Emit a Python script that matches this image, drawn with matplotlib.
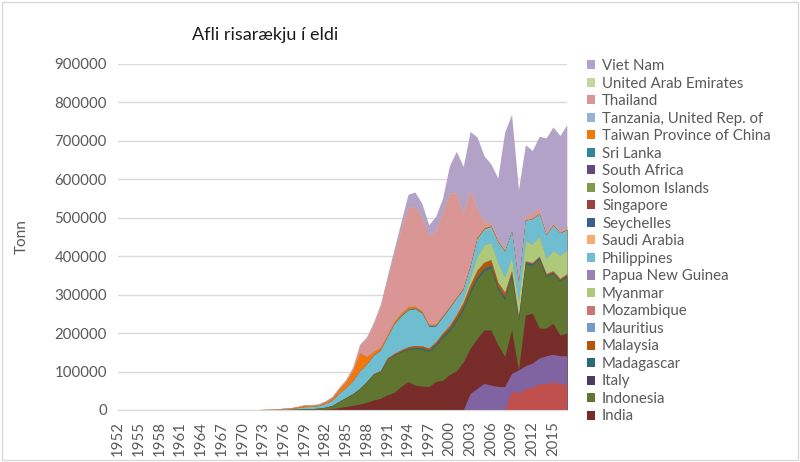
import matplotlib
matplotlib.use('Agg')
import matplotlib.pyplot as plt
import matplotlib.patches as mpatches
import numpy as np

plt.rcParams['font.family'] = ['Lato', 'DejaVu Sans']

# ── Data (tonnes), one value per year 1968-2017; earlier years are all zero ──
YEARS = list(range(1968, 2018))
TICK_YEARS = list(range(1952, 2018, 3))

# series below India in the stack (legend in the source is cut off above them)
bangladesh = [0, 0, 0, 0, 0, 0, 0, 0, 0, 0,
              0, 0, 0, 0, 0, 0, 0, 0, 0, 0,
              0, 0, 0, 0, 0, 0, 0, 0, 0, 0,
              0, 0, 0, 0, 0, 0, 0, 0, 0, 0,
              0, 50000, 43000, 56000, 59000, 68000, 69000, 74000, 68000, 68000]
china = [0, 0, 0, 0, 0, 0, 0, 0, 0, 0,
         0, 0, 0, 0, 0, 0, 0, 0, 0, 0,
         0, 0, 0, 0, 0, 0, 0, 0, 0, 0,
         0, 0, 0, 0, 0, 43000, 56000, 69000, 65000, 61000,
         61000, 45000, 61000, 59000, 63000, 67000, 72000, 71000, 73000, 73000]

india = [0, 0, 0, 0, 0, 0, 200, 400, 600, 800,
         1000, 1200, 1500, 2000, 2500, 3500, 6000, 9000, 12000, 15000,
         20000, 26000, 30000, 39000, 46000, 61000, 74000, 65000, 62000, 61000,
         74000, 77000, 92000, 102000, 125000, 117000, 130000, 139000, 143000, 109000,
         78000, 113000, 0, 132000, 130000, 78000, 72000, 80000, 54000, 59000]
indonesia = [0, 0, 0, 0, 0, 0, 0, 300, 500, 800,
             1000, 1500, 2000, 2500, 4500, 8000, 16000, 23000, 30000, 40000,
             53000, 67000, 70000, 93000, 97000, 90000, 84000, 95000, 96000, 91000,
             93000, 111000, 113000, 130000, 137000, 145000, 154000, 154000, 162000, 145000,
             149000, 140000, 130000, 133000, 124000, 180000, 134000, 129000, 140000, 147000]
italy = [0, 0, 0, 0, 0, 0, 0, 0, 0, 0,
         0, 0, 0, 0, 0, 0, 0, 0, 0, 0,
         0, 0, 0, 0, 0, 0, 0, 0, 0, 0,
         0, 0, 0, 0, 0, 10, 10, 10, 10, 10,
         10, 10, 10, 10, 10, 0, 0, 0, 0, 0]
madagascar = [0, 0, 0, 0, 0, 0, 0, 0, 0, 0,
              0, 0, 0, 0, 0, 0, 0, 0, 0, 0,
              0, 0, 500, 900, 1200, 1900, 2300, 3200, 3500, 4100,
              4500, 5800, 6500, 6200, 7000, 7500, 7200, 6800, 6500, 7000,
              6500, 5000, 4200, 4000, 4500, 3900, 3500, 3700, 3200, 3300]
malaysia = [0, 0, 0, 0, 0, 0, 0, 0, 0, 0,
            0, 0, 0, 0, 0, 0, 300, 500, 700, 900,
            1200, 1600, 2000, 2500, 3000, 3500, 4000, 4500, 5000, 5000,
            5500, 6000, 8000, 9000, 11000, 13000, 16000, 15000, 14000, 10000,
            11000, 9000, 3500, 3000, 2500, 2500, 3500, 4000, 3500, 4000]
mauritius = [0, 0, 0, 0, 0, 0, 0, 0, 0, 0,
             0, 0, 0, 0, 0, 0, 0, 0, 0, 0,
             0, 0, 0, 0, 0, 0, 0, 0, 0, 0,
             0, 0, 100, 100, 200, 200, 200, 100, 100, 100,
             100, 100, 100, 100, 100, 100, 100, 100, 100, 100]
mozambique = [0, 0, 0, 0, 0, 0, 0, 0, 0, 0,
              0, 0, 0, 0, 0, 0, 0, 0, 0, 0,
              0, 0, 0, 0, 0, 0, 0, 0, 0, 0,
              0, 500, 900, 1000, 1100, 1000, 1200, 1000, 1000, 900,
              1000, 1000, 1100, 1000, 1000, 900, 1000, 1000, 1000, 1000]
myanmar = [0, 0, 0, 0, 0, 0, 0, 0, 0, 0,
           0, 0, 0, 0, 0, 0, 0, 0, 0, 0,
           0, 0, 0, 0, 0, 0, 0, 0, 0, 0,
           0, 1000, 2000, 4000, 9000, 17000, 34000, 44000, 44000, 50000,
           39000, 34000, 39000, 52000, 47000, 52000, 39000, 52000, 60000, 60000]
papua_ng = [0, 0, 0, 0, 0, 0, 0, 0, 0, 0,
            0, 0, 0, 0, 0, 0, 0, 0, 0, 0,
            0, 0, 0, 0, 0, 0, 0, 0, 0, 0,
            0, 0, 0, 0, 0, 50, 50, 50, 50, 50,
            50, 50, 50, 50, 50, 50, 50, 50, 50, 50]
philippines = [0, 0, 0, 0, 0, 100, 200, 500, 1000, 1500,
               3000, 5000, 5000, 6000, 9000, 13000, 20000, 25000, 32000, 45000,
               44000, 47000, 52000, 54000, 76000, 87000, 95000, 95000, 85000, 56000,
               40000, 39000, 41000, 36000, 22000, 26000, 44000, 39000, 39000, 52000,
               65000, 65000, 46000, 52000, 65000, 57000, 60000, 65000, 57000, 52000]
saudi_arabia = [0, 0, 0, 0, 0, 0, 0, 0, 0, 0,
                0, 0, 0, 0, 0, 0, 0, 0, 0, 0,
                0, 0, 0, 0, 0, 0, 0, 0, 0, 0,
                300, 500, 1000, 1500, 2000, 2500, 3000, 2500, 2500, 2000,
                1500, 1000, 800, 800, 800, 600, 500, 500, 500, 500]
seychelles = [0, 0, 0, 0, 0, 0, 0, 0, 0, 0,
              0, 0, 0, 0, 0, 0, 0, 0, 0, 0,
              0, 0, 0, 0, 0, 0, 0, 0, 0, 0,
              0, 0, 0, 0, 0, 200, 300, 300, 300, 300,
              300, 200, 200, 200, 0, 0, 0, 0, 0, 0]
singapore = [0, 0, 0, 0, 0, 0, 0, 0, 0, 0,
             0, 0, 100, 100, 200, 200, 300, 300, 300, 300,
             300, 300, 200, 200, 200, 100, 100, 100, 100, 100,
             100, 100, 100, 100, 100, 0, 0, 0, 0, 0,
             0, 0, 0, 0, 0, 0, 0, 0, 0, 0]
solomon_islands = [0, 0, 0, 0, 0, 0, 0, 0, 0, 0,
                   0, 0, 0, 0, 0, 0, 0, 0, 0, 0,
                   0, 0, 0, 0, 0, 0, 0, 0, 0, 0,
                   0, 0, 0, 0, 0, 0, 0, 0, 0, 0,
                   20, 20, 20, 20, 20, 20, 20, 20, 20, 20]
south_africa = [0, 0, 0, 0, 0, 0, 0, 0, 0, 0,
                0, 0, 0, 0, 0, 0, 0, 0, 0, 0,
                0, 0, 50, 50, 50, 50, 50, 50, 50, 50,
                50, 50, 50, 50, 50, 50, 50, 50, 50, 50,
                0, 0, 0, 0, 0, 0, 0, 0, 0, 0]
sri_lanka = [0, 0, 0, 0, 0, 0, 0, 0, 0, 0,
             0, 0, 0, 0, 0, 0, 0, 300, 500, 800,
             1000, 1500, 2000, 2000, 2500, 3000, 3000, 3000, 3000, 3000,
             3000, 3000, 2500, 2000, 2000, 2000, 1500, 1500, 1500, 1000,
             1000, 1000, 1000, 1000, 1000, 1000, 1000, 1000, 1000, 1000]
taiwan = [300, 700, 1000, 800, 1000, 1500, 1800, 1700, 2500, 2700,
          3800, 5000, 3500, 3500, 5000, 7000, 12000, 16000, 28000, 47000,
          20000, 9000, 7000, 5000, 6000, 6000, 6500, 5000, 4000, 3500,
          3000, 2500, 2500, 2000, 2000, 2000, 1500, 1500, 1200, 1000,
          1000, 800, 800, 700, 700, 600, 600, 600, 500, 500]
tanzania = [0, 0, 0, 0, 0, 0, 0, 0, 0, 0,
            0, 0, 0, 0, 0, 0, 0, 0, 0, 0,
            0, 0, 0, 0, 0, 0, 0, 0, 0, 0,
            0, 0, 0, 0, 0, 0, 0, 0, 30, 30,
            30, 30, 30, 30, 30, 30, 30, 30, 30, 30]
thailand = [0, 0, 0, 0, 0, 0, 0, 0, 0, 0,
            0, 500, 500, 600, 1000, 1500, 2000, 3000, 5000, 19000,
            47000, 71000, 106000, 145000, 173000, 218000, 259000, 258000, 244000, 229000,
            242000, 266000, 295000, 271000, 192000, 197000, 73000, 18000, 6000, 7000,
            3000, 3000, 2000, 10000, 14000, 14000, 6000, 6000, 5000, 9000]
uae = [0, 0, 0, 0, 0, 0, 0, 0, 0, 0,
       0, 0, 0, 0, 0, 0, 0, 0, 0, 0,
       0, 0, 0, 0, 0, 0, 0, 0, 0, 0,
       0, 0, 0, 0, 0, 0, 0, 0, 0, 0,
       0, 0, 0, 50, 50, 50, 50, 50, 50, 50]
viet_nam = [0, 0, 0, 0, 0, 0, 0, 0, 0, 0,
            500, 1000, 1500, 1500, 2000, 2500, 3000, 3000, 4000, 3000,
            4000, 5000, 6000, 7000, 15000, 20000, 33000, 38000, 35000, 29000,
            38000, 38000, 71000, 108000, 123000, 151000, 188000, 170000, 154000, 157000,
            305000, 301000, 240000, 185000, 162000, 186000, 245000, 248000, 247000, 263000]

# stacking order, bottom first: (label, values, colour); None = not in legend
SERIES = [
    (None, bangladesh, '#C0504D'),
    (None, china, '#8064A2'),
    ('India', india, '#772C2A'),
    ('Indonesia', indonesia, '#5F7530'),
    ('Italy', italy, '#4D3B62'),
    ('Madagascar', madagascar, '#276A7C'),
    ('Malaysia', malaysia, '#B65708'),
    ('Mauritius', mauritius, '#729ACA'),
    ('Mozambique', mozambique, '#CD7371'),
    ('Myanmar', myanmar, '#AFC97A'),
    ('Papua New Guinea', papua_ng, '#9983B5'),
    ('Philippines', philippines, '#6FBDD1'),
    ('Saudi Arabia', saudi_arabia, '#F9AB6B'),
    ('Seychelles', seychelles, '#3A5F8B'),
    ('Singapore', singapore, '#A03E3B'),
    ('Solomon Islands', solomon_islands, '#7F9A48'),
    ('South Africa', south_africa, '#604A7B'),
    ('Sri Lanka', sri_lanka, '#31859C'),
    ('Taiwan Province of China', taiwan, '#F2770D'),
    ('Tanzania, United Rep. of', tanzania, '#95B3D7'),
    ('Thailand', thailand, '#D99694'),
    ('United Arab Emirates', uae, '#C3D69B'),
    ('Viet Nam', viet_nam, '#B3A2C7'),
]

GREY = '#595959'
GRID = '#D9D9D9'

fig = plt.figure(figsize=(8, 4.62), dpi=100, facecolor='white')
ax = fig.add_axes([0.1475, 0.1126, 0.561, 0.749])

# draw cumulative tops from the top down, each filled to zero (no seams)
x = np.array(YEARS)
cum = np.cumsum(np.array([s[1] for s in SERIES], dtype=float), axis=0)
for i in range(len(SERIES) - 1, -1, -1):
    ax.fill_between(x, 0, cum[i], color=SERIES[i][2], lw=0, zorder=2)

ax.set_xlim(1952, 2017)
ax.set_ylim(0, 900000)
ax.set_yticks(range(0, 900001, 100000))
ax.set_yticklabels([str(v) for v in range(0, 900001, 100000)])
ax.set_xticks(TICK_YEARS)
ax.set_xticklabels([str(y) for y in TICK_YEARS], rotation=90)
ax.yaxis.grid(True, color=GRID, lw=1.0)
ax.set_axisbelow(True)
for side in ['top', 'right', 'left']:
    ax.spines[side].set_visible(False)
ax.spines['bottom'].set_color(GRID)
ax.spines['bottom'].set_zorder(3)
ax.tick_params(length=0, colors=GREY, labelsize=10.8)
ax.tick_params(axis='y', pad=8)
ax.tick_params(axis='x', pad=8)

fig.text(265 / 800, 1 - 35 / 462, 'Afli risarækju í eldi', ha='center', va='center',
         fontsize=13, color='#1a1a1a')
fig.text(22 / 800, 1 - 237 / 462, 'Tonn', rotation=90, ha='center', va='center',
         fontsize=11, color=GREY)

# legend: top series first, as Excel lists it
handles, labels = [], []
for label, _, color in reversed(SERIES):
    if label is None:
        continue
    handles.append(mpatches.Patch(facecolor=color, edgecolor='none'))
    labels.append(label)
fig.legend(handles, labels, loc='upper left', bbox_to_anchor=(587 / 800, 1 - 59 / 462),
           frameon=False, fontsize=10.8, labelcolor=GREY, handlelength=0.55,
           handleheight=0.55, handletextpad=0.45, labelspacing=0.235,
           borderaxespad=0, borderpad=0)

fig.patches.append(mpatches.Rectangle((0.003, 0.004), 0.994, 0.992, transform=fig.transFigure,
                                      fill=False, edgecolor=GRID, lw=1))

fig.savefig('out.png', dpi=100, facecolor='white')
